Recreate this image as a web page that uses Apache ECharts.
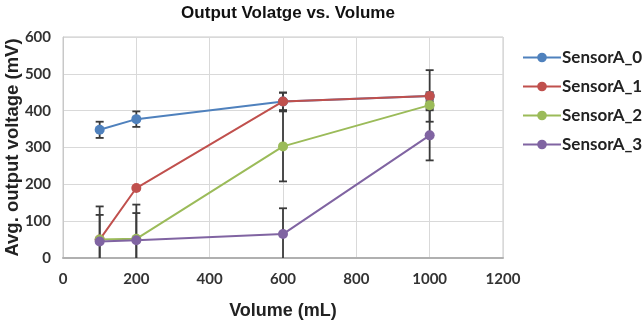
<!DOCTYPE html>
<html><head><meta charset="utf-8">
<script src="https://cdn.jsdelivr.net/npm/echarts@6/dist/echarts.min.js"></script>
<style>html,body{margin:0;padding:0;background:#fff}#c{width:643px;height:323px}</style>
</head><body><div id="c"></div>
<script>
var volumes = [100, 200, 600, 1000];
var seriesNames = ['SensorA_0', 'SensorA_1', 'SensorA_2', 'SensorA_3'];
var sensorA0 = [348, 377, 425, 440];
var sensorA1 = [50, 190, 425, 440];
var sensorA2 = [50, 52, 303, 415];
var sensorA3 = [45, 48, 65, 333];
var errA0 = [22, 21, 24, 10];
var errA1 = [5, 4, 24, 70];
var errA2 = [90, 93, 95, 10];
var errA3 = [72, 74, 70, 68];
var colors = ['#4F81BD', '#C0504D', '#9BBB59', '#8064A2'];

var values = [sensorA0, sensorA1, sensorA2, sensorA3];
var errs = [errA0, errA1, errA2, errA3];

var chart = echarts.init(document.getElementById('c'));
var series = [];
values.forEach(function (vals, i) {
  series.push({
    name: seriesNames[i], type: 'line',
    data: volumes.map(function (v, j) { return [v, vals[j]]; }),
    symbol: 'circle', symbolSize: 10,
    lineStyle: { width: 2, color: colors[i] },
    itemStyle: { color: colors[i] },
    z: 5 + i
  });
});
values.forEach(function (vals, i) {
  series.push({
    type: 'custom', name: seriesNames[i] + '_err', clip: true, z: 3,
    data: volumes.map(function (v, j) { return [v, vals[j] - errs[i][j], vals[j] + errs[i][j]]; }),
    renderItem: function (params, api) {
      var x = api.value(0);
      var lo = api.coord([x, api.value(1)]);
      var hi = api.coord([x, api.value(2)]);
      var hw = 4;
      var st = { stroke: '#3a3a3a', lineWidth: 1.8 };
      return { type: 'group', children: [
        { type: 'line', shape: { x1: lo[0], y1: lo[1], x2: hi[0], y2: hi[1] }, style: st },
        { type: 'line', shape: { x1: hi[0] - hw, y1: hi[1], x2: hi[0] + hw, y2: hi[1] }, style: st },
        { type: 'line', shape: { x1: lo[0] - hw, y1: lo[1], x2: lo[0] + hw, y2: lo[1] }, style: st }
      ] };
    },
    tooltip: { show: false }
  });
});

chart.setOption({
  animation: false,
  title: {
    text: 'Output Volatge vs. Volume', left: 283, top: 0, textAlign: 'center',
    textStyle: { fontFamily: 'Liberation Sans', fontWeight: 'bold', fontSize: 17, color: '#111' }
  },
  legend: {
    data: seriesNames, orient: 'vertical', left: 517, top: 43,
    itemWidth: 38, itemHeight: 12, itemGap: 10,
    textStyle: { fontFamily: 'Lato', fontWeight: 'bold', fontSize: 17, lineHeight: 19, color: '#222', padding: [0, 0, 0, -4] }
  },
  grid: { left: 63, right: 140, top: 37, bottom: 65, show: true, borderColor: '#c8c8c8', borderWidth: 1, outerBoundsMode: 'none', containLabel: false },
  xAxis: {
    type: 'value', min: 0, max: 1200, interval: 200,
    name: 'Volume (mL)', nameLocation: 'middle', nameGap: 44, nameMoveOverlap: false,
    nameTextStyle: { fontFamily: 'Liberation Sans', fontWeight: 'bold', fontSize: 18, color: '#222' },
    axisLine: { show: true, lineStyle: { color: '#b0b0b0', width: 2 } },
    axisTick: { show: false },
    axisLabel: { margin: 14, fontFamily: 'Lato', fontWeight: 'bold', fontSize: 15, color: '#333',
      formatter: function (v) { return String(v); } },
    splitLine: { show: true, lineStyle: { color: '#d9d9d9' } }
  },
  yAxis: {
    type: 'value', min: 0, max: 600, interval: 100,
    name: 'Avg. output voltage (mV)', nameLocation: 'middle', nameGap: 41, nameMoveOverlap: false,
    nameTextStyle: { fontFamily: 'Liberation Sans', fontWeight: 'bold', fontSize: 18.5, color: '#222' },
    axisLine: { show: true, lineStyle: { color: '#c8c8c8' } },
    axisTick: { show: false },
    axisLabel: { margin: 12, fontFamily: 'Lato', fontWeight: 'bold', fontSize: 15, color: '#333' },
    splitLine: { show: true, lineStyle: { color: '#d9d9d9' } }
  },
  series: series
});
</script></body></html>
